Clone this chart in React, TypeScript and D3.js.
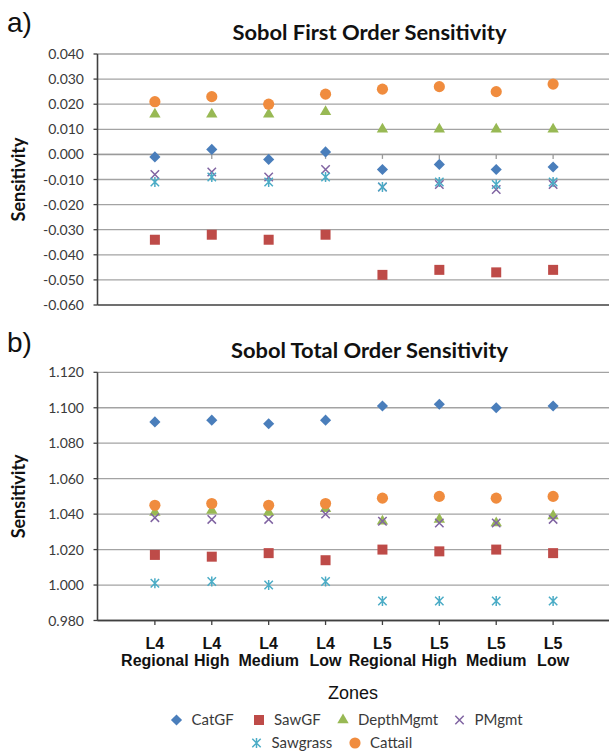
import * as d3 from "d3";

// zones on the category axis (two lines each)
const zoneLevels = ["L4", "L4", "L4", "L4", "L5", "L5", "L5", "L5"];
const zoneNames = ["Regional", "High", "Medium", "Low", "Regional", "High", "Medium", "Low"];

const seriesNames = ["CatGF", "SawGF", "DepthMgmt", "PMgmt", "Sawgrass", "Cattail"];
const seriesColors = ["#4A7EBB", "#BE4B48", "#98B954", "#8064A2", "#4BACC6", "#F08C3E"];
const seriesShapes = ["diamond", "square", "triangle", "x", "asterisk", "circle"];

// a) first order
const firstCatGF = [-0.001, 0.002, -0.002, 0.001, -0.006, -0.004, -0.006, -0.005];
const firstSawGF = [-0.034, -0.032, -0.034, -0.032, -0.048, -0.046, -0.047, -0.046];
const firstDepthMgmt = [0.016, 0.016, 0.016, 0.017, 0.01, 0.01, 0.01, 0.01];
const firstPMgmt = [-0.008, -0.007, -0.009, -0.006, -0.013, -0.012, -0.014, -0.012];
const firstSawgrass = [-0.011, -0.009, -0.011, -0.009, -0.013, -0.011, -0.012, -0.011];
const firstCattail = [0.021, 0.023, 0.02, 0.024, 0.026, 0.027, 0.025, 0.028];
const firstTicks = [-0.06, -0.05, -0.04, -0.03, -0.02, -0.01, 0, 0.01, 0.02, 0.03, 0.04];

// b) total order
const totalCatGF = [1.092, 1.093, 1.091, 1.093, 1.101, 1.102, 1.1, 1.101];
const totalSawGF = [1.017, 1.016, 1.018, 1.014, 1.02, 1.019, 1.02, 1.018];
const totalDepthMgmt = [1.041, 1.042, 1.041, 1.043, 1.036, 1.037, 1.035, 1.039];
const totalPMgmt = [1.038, 1.037, 1.037, 1.04, 1.036, 1.035, 1.035, 1.037];
const totalSawgrass = [1.001, 1.002, 1.0, 1.002, 0.991, 0.991, 0.991, 0.991];
const totalCattail = [1.045, 1.046, 1.045, 1.046, 1.049, 1.05, 1.049, 1.05];
const totalTicks = [0.98, 1.0, 1.02, 1.04, 1.06, 1.08, 1.1, 1.12];

const labelFont = "Lato, 'Open Sans', sans-serif";
const arialFont = "'Liberation Sans', Arial, sans-serif";
const fmt = (v: number) => d3.format(".3f")(v).replace("\u2212", "-");

const x = d3.scalePoint<number>().domain(d3.range(zoneNames.length)).range([98, 610]).padding(1);

function Marker({ shape, cx, cy, color }: { shape: string; cx: number; cy: number; color: string }) {
  const t = `translate(${cx},${cy})`;
  if (shape === "diamond")
    return <path transform={t + " rotate(45)"} d={d3.symbol(d3.symbolSquare, 62)()!} fill={color} />;
  if (shape === "square") return <path transform={t} d={d3.symbol(d3.symbolSquare, 100)()!} fill={color} />;
  if (shape === "triangle") return <path transform={t} d={d3.symbol(d3.symbolTriangle, 56)()!} fill={color} />;
  if (shape === "circle") return <path transform={t} d={d3.symbol(d3.symbolCircle, 98)()!} fill={color} />;
  const r = 4.2;
  const p = d3.path();
  p.moveTo(-r, -r); p.lineTo(r, r);
  p.moveTo(-r, r); p.lineTo(r, -r);
  if (shape === "asterisk") { p.moveTo(0, -r - 0.8); p.lineTo(0, r + 0.8); }
  return <path transform={t} d={p.toString()} stroke={color} strokeWidth={1.5} fill="none" />;
}

function Panel({ tag, title, titleLen, series, ticks, yRange, crossAt, tagY }: any) {
  const y = d3.scaleLinear().domain(d3.extent(ticks) as [number, number]).range(yRange);
  const top = yRange[1];
  const bottom = yRange[0];
  const axisY = y(crossAt);
  const tickXs = [...x.domain().map((d) => x(d)!), x(7)! + x.step()];
  return (
    <g>
      <text x={7} y={tagY} fontFamily={arialFont} fontSize={28} fill="#111">{tag}</text>
      <text x={369.5} y={top - 14} textAnchor="middle" fontFamily={labelFont} fontWeight="bold" fontSize={20}
        textLength={titleLen} lengthAdjust="spacingAndGlyphs" fill="#111">{title}</text>
      <text transform={`translate(25,${(top + bottom) / 2}) rotate(-90)`} textAnchor="middle"
        fontFamily={labelFont} fontWeight="bold" fontSize={18} fill="#111">Sensitivity</text>
      {ticks.map((t: number) => (
        <g key={t}>
          <line x1={97.5} x2={609} y1={y(t)} y2={y(t)} stroke={t === ticks[0] ? "#404040" : "#a3a3a3"}
            strokeWidth={t === ticks[0] ? 1.6 : 1.3} />
          <line x1={93.5} x2={97.5} y1={y(t)} y2={y(t)} stroke="#404040" strokeWidth={1.3} />
          <text x={84} y={y(t)} dy="0.36em" textAnchor="end" fontFamily={labelFont} fontSize={14} fill="#3a3a3a">{fmt(t)}</text>
        </g>
      ))}
      <line x1={97.5} x2={609} y1={axisY} y2={axisY} stroke={crossAt === ticks[0] ? "#404040" : "#9a9a9a"} strokeWidth={1.5} />
      {tickXs.map((tx, i) => (
        <line key={i} x1={tx} x2={tx} y1={axisY} y2={axisY + 4.5} stroke={crossAt === ticks[0] ? "#404040" : "#9a9a9a"} strokeWidth={1.3} />
      ))}
      <line x1={97.5} x2={97.5} y1={top} y2={bottom} stroke="#404040" strokeWidth={1.6} />
      {series.map((vals: number[], s: number) =>
        vals.map((v, i) => (
          <Marker key={`${s}-${i}`} shape={seriesShapes[s]} cx={x(i)!} cy={y(v)} color={seriesColors[s]} />
        ))
      )}
    </g>
  );
}

const legendRows = [
  [0, 1, 2, 3],
  [4, 5],
];
const legendX = [176.5, 259, 343, 459.5, 256.5, 355];

export default function App() {
  return (
    <svg width={609} height={752} style={{ position: "absolute", left: 0, top: 0, background: "#fff" }}>
      <rect width={609} height={752} fill="#fff" />
      <Panel tag="a)" tagY={32} title="Sobol First Order Sensitivity" titleLen={274}
        series={[firstCatGF, firstSawGF, firstDepthMgmt, firstPMgmt, firstSawgrass, firstCattail]}
        ticks={firstTicks} yRange={[305, 54]} crossAt={0} />
      <Panel tag="b)" tagY={352} title="Sobol Total Order Sensitivity" titleLen={277}
        series={[totalCatGF, totalSawGF, totalDepthMgmt, totalPMgmt, totalSawgrass, totalCattail]}
        ticks={totalTicks} yRange={[620.5, 372.3]} crossAt={0.98} />
      {zoneNames.map((z, i) => (
        <g key={i}>
          <text x={x(i)} y={648.5} textAnchor="middle" fontFamily={arialFont} fontWeight="bold" fontSize={16} fill="#111">{zoneLevels[i]}</text>
          <text x={x(i)} y={666} textAnchor="middle" fontFamily={arialFont} fontWeight="bold" fontSize={16} fill="#111">{z}</text>
        </g>
      ))}
      <text x={353} y={699} textAnchor="middle" fontFamily={arialFont} fontSize={18} fill="#111">Zones</text>
      {legendRows.map((row, r) =>
        row.map((s) => (
          <g key={s}>
            <Marker shape={seriesShapes[s]} cx={legendX[s]} cy={r === 0 ? 720 : 743} color={seriesColors[s]} />
            <text x={legendX[s] + 15} y={r === 0 ? 720 : 743} dy="0.36em" fontFamily={labelFont} fontSize={15} fill="#3a3a3a">
              {seriesNames[s]}
            </text>
          </g>
        ))
      )}
    </svg>
  );
}
